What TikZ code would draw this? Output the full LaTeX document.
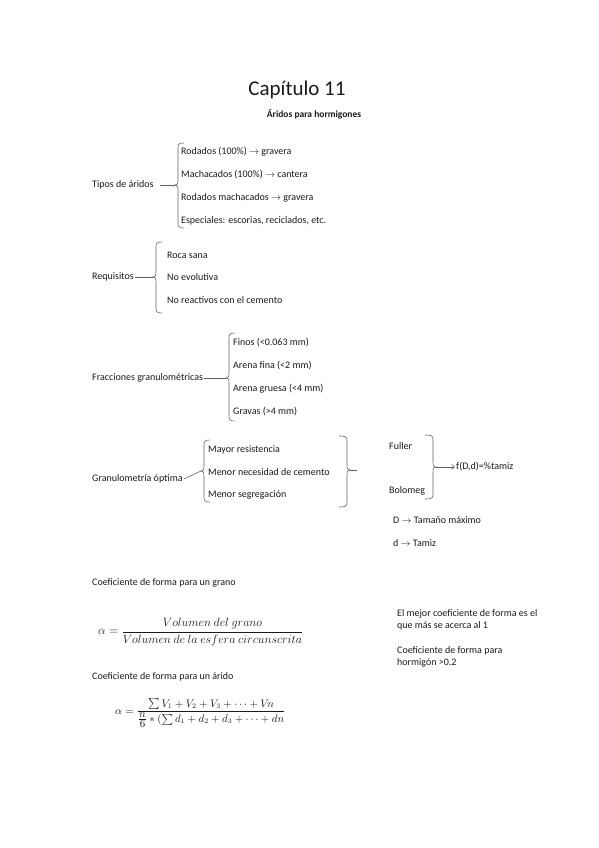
\documentclass[tikz,border=0pt]{standalone}
\usepackage{amsmath}
\usepackage{fontspec}
\setmainfont{Carlito}
\usetikzlibrary{arrows.meta, positioning}
\definecolor{brkgray}{RGB}{95,95,95}
\definecolor{inkgray}{RGB}{25,25,25}

% left brace: stem x, top, mid, bottom, name of the tip
\newcommand{\leftbrk}[5]{%
  \draw[brk] (#1+6,#2) .. controls (#1+1,#2) and (#1,#2+1) .. (#1,#2+5)
    -- (#1,#3-5) .. controls (#1,#3-1) and (#1-1,#3) .. (#1-3,#3) coordinate (#5)
    .. controls (#1-1,#3) and (#1,#3+1) .. (#1,#3+5)
    -- (#1,#4-5) .. controls (#1,#4-1) and (#1+1,#4) .. (#1+6,#4);}
% right brace: same, mirrored
\newcommand{\rightbrk}[5]{%
  \draw[brk] (#1-8,#2) .. controls (#1-1,#2) and (#1,#2+1) .. (#1,#2+5)
    -- (#1,#3-5) .. controls (#1,#3-1) and (#1+1,#3) .. (#1+3,#3) coordinate (#5)
    .. controls (#1+1,#3) and (#1,#3+1) .. (#1,#3+5)
    -- (#1,#4-5) .. controls (#1,#4-1) and (#1-1,#4) .. (#1-8,#4);}
% formulas
\newcommand{\eqgrano}{$\alpha = \dfrac{Volumen\ del\ grano}{Volumen\ de\ la\ esfera\ circunscrita}$}
\newcommand{\eqarido}{$\alpha = \dfrac{\sum V_1 + V_2 + V_3 + \cdots + V\!n}{\genfrac{}{}{}{1}{\textstyle n}{\textstyle 6} * (\sum d_1 + d_2 + d_3 + \cdots + dn}$}

\begin{document}
\begin{tikzpicture}[x=1pt, y=-1pt,
  txt/.style={anchor=west, inner sep=1pt, text=inkgray,
              font=\fontsize{10}{12.5}\selectfont},
  eq/.style={anchor=west, inner sep=0pt, text=inkgray,
             font=\fontsize{11.5}{14}\selectfont},
  brk/.style={draw=brkgray, line width=0.6pt},
  tick/.style={draw=brkgray, line width=0.6pt},
]
\useasboundingbox (0,0) rectangle (599,848);

% --- heading ---
\node[text=inkgray, font=\fontsize{21}{24}\selectfont] (title) at (297,90) {Capítulo 11};
\node[text=inkgray, font=\fontsize{9.5}{11}\bfseries] (sub) at (314,114) {Áridos para hormigones};

% --- Tipos de aridos ---
\node[txt] (tipos) at (91,185) {Tipos de áridos};
\leftbrk{178}{143}{185}{228}{tp}
\foreach \t [count=\i] in {Rodados (100\%) $\rightarrow$ gravera,
    Machacados (100\%) $\rightarrow$ cantera,
    Rodados machacados $\rightarrow$ gravera,
    {Especiales: escorias, reciclados, etc.}}
  \node[txt] (ti\i) at (180,152+23*\i-23) {\t};
\draw[tick, shorten <=5pt] (tipos.east) -- (tp);

% --- Requisitos ---
\node[txt] (req) at (91,277) {Requisitos};
\leftbrk{156}{242}{277}{313}{rq}
\foreach \t [count=\i] in {Roca sana, No evolutiva, No reactivos con el cemento}
  \node[txt] (ri\i) at (166,255+22.5*\i-22.5) {\t};
\draw[tick] (req.east) -- (rq);

% --- Fracciones granulometricas ---
\node[txt] (frac) at (91,378) {Fracciones granulométricas};
\leftbrk{229}{333}{378}{421}{fr}
\foreach \t [count=\i] in {Finos (<0.063 mm), Arena fina (<2 mm),
    Arena gruesa (<4 mm), Gravas (>4 mm)}
  \node[txt] (fi\i) at (232,343+22.7*\i-22.7) {\t};
\draw[tick] (frac.east) -- (fr);

% --- Granulometria optima ---
\node[txt] (gran) at (91,479) {Granulometría óptima};
\leftbrk{204}{440}{471}{502}{gr}
\foreach \t [count=\i] in {Mayor resistencia, Menor necesidad de cemento,
    Menor segregación}
  \node[txt] (gi\i) at (207,450+22.5*\i-22.5) {\t};
\draw[tick] (gran.east) -- (gr);
\rightbrk{347}{436}{470}{507}{go}
\coordinate (goend) at (357,470);
\draw[tick] (go) -- (goend);

% --- Fuller / Bolomeg ---
\node[txt] (fuller) at (388,446) {Fuller};
\node[txt] (bolo) at (388,491) {Bolomeg};
\rightbrk{433}{435}{467}{499}{fb}
\node[txt] (ftam) at (455,467) {f(D,d)=\%tamiz};
\draw[tick, -{Straight Barb[length=3pt,width=5pt]}] (fb) -- (ftam.west);
\node[txt] (dmax) at (392,520) {D $\rightarrow$ Tamaño máximo};
\node[txt] (dtam) at (392,543) {d $\rightarrow$ Tamiz};

% --- coeficiente de forma ---
\node[txt] (cgrano) at (91,583) {Coeficiente de forma para un grano};
\node[eq] (fgrano) at (98,632) {\eqgrano};
\node[txt] (carido) at (91,677) {Coeficiente de forma para un árido};
\node[eq, font=\fontsize{10.5}{13}\selectfont] (farido) at (115,713) {\eqarido};

% --- notas ---
\node[txt, align=left, anchor=north west] (nota1) at (396,608) {El mejor coeficiente de forma es el\\que más se acerca al 1};
\node[txt, align=left, anchor=north west] (nota2) at (396,645) {Coeficiente de forma para\\hormigón >0.2};
\end{tikzpicture}
\end{document}
